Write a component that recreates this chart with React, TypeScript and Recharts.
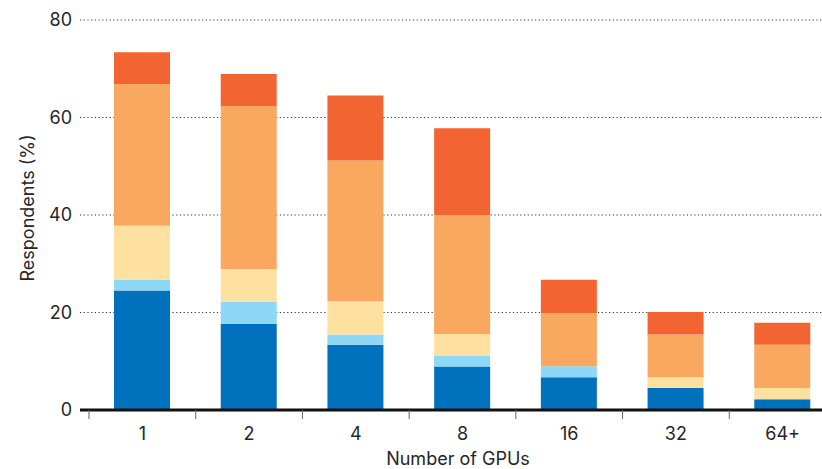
import React from 'react';
import { BarChart, Bar, XAxis, YAxis, CartesianGrid } from 'recharts';

const categories = ['1', '2', '4', '8', '16', '32', '64+'];
const seriesA = [24.5, 17.7, 13.4, 8.9, 6.7, 4.5, 2.2];
const seriesB = [2.2, 4.5, 2.1, 2.2, 2.3, 0, 0];
const seriesC = [11.1, 6.7, 6.8, 4.5, 0, 2.2, 2.3];
const seriesD = [29.0, 33.4, 28.9, 24.4, 10.9, 8.8, 8.9];
const seriesE = [6.6, 6.6, 13.3, 17.8, 6.8, 4.6, 4.5];
const yTicks = [0, 20, 40, 60, 80];

const data = categories.map((c, i) => ({
  gpus: c,
  a: seriesA[i],
  b: seriesB[i],
  c: seriesC[i],
  d: seriesD[i],
  e: seriesE[i],
}));

const FONT = "Inter, Roboto, 'DejaVu Sans', sans-serif";
const TEXT = '#262626';

const XTick = (props: any) => {
  const { x, y, payload } = props;
  const half = payload && typeof payload.offset === 'number' && payload.offset > 0 ? payload.offset : 53.3;
  return (
    <g>
      <line x1={x - half} x2={x - half} y1={y} y2={y + 9} stroke="#666" strokeWidth={1} />
      <text x={x} y={y + 30} textAnchor="middle" fill={TEXT} fontSize={18} fontFamily={FONT}>
        {payload.value}
      </text>
    </g>
  );
};

const YLabel = (props: any) => {
  const vb = props.viewBox || { x: 0, y: 20, width: 80, height: 390 };
  const cx = vb.x + 27;
  const cy = vb.y + vb.height / 2 - 7;
  return (
    <text
      x={cx}
      y={cy}
      transform={`rotate(-90 ${cx} ${cy})`}
      textAnchor="middle"
      dominantBaseline="central"
      fill={TEXT}
      fontSize={18}
      fontFamily={FONT}
    >
      Respondents (%)
    </text>
  );
};

export default function App() {
  return (
    <div
      style={{
        position: 'absolute',
        left: 0,
        top: 0,
        width: 822,
        height: 469,
        overflow: 'hidden',
        background: '#fff',
      }}
    >
      <BarChart
        width={840}
        height={469}
        data={data}
        margin={{ top: 20, right: 4, left: 0, bottom: 0 }}
        barSize={56}
      >
        <CartesianGrid vertical={false} stroke="#333" strokeDasharray="1.2 2.5" />
        <YAxis
          width={80}
          domain={[0, 80]}
          ticks={yTicks}
          axisLine={false}
          tickLine={false}
          tick={{ fill: TEXT, fontSize: 18, fontFamily: FONT }}
          label={<YLabel />}
        />
        <XAxis
          dataKey="gpus"
          height={59}
          interval={0}
          padding={{ left: 9, right: 0 }}
          axisLine={{ stroke: '#111', strokeWidth: 3 }}
          tickLine={false}
          tickSize={0}
          tickMargin={0}
          tick={<XTick />}
          label={{ value: 'Number of GPUs', position: 'insideBottom', offset: 4, fill: TEXT, fontSize: 18, fontFamily: FONT }}
        />
        <Bar dataKey="a" stackId="s" fill="#0071bc" isAnimationActive={false} />
        <Bar dataKey="b" stackId="s" fill="#8dd7f7" isAnimationActive={false} />
        <Bar dataKey="c" stackId="s" fill="#fee1a1" isAnimationActive={false} />
        <Bar dataKey="d" stackId="s" fill="#f8a85f" isAnimationActive={false} />
        <Bar dataKey="e" stackId="s" fill="#f26532" isAnimationActive={false} />
      </BarChart>
    </div>
  );
}
